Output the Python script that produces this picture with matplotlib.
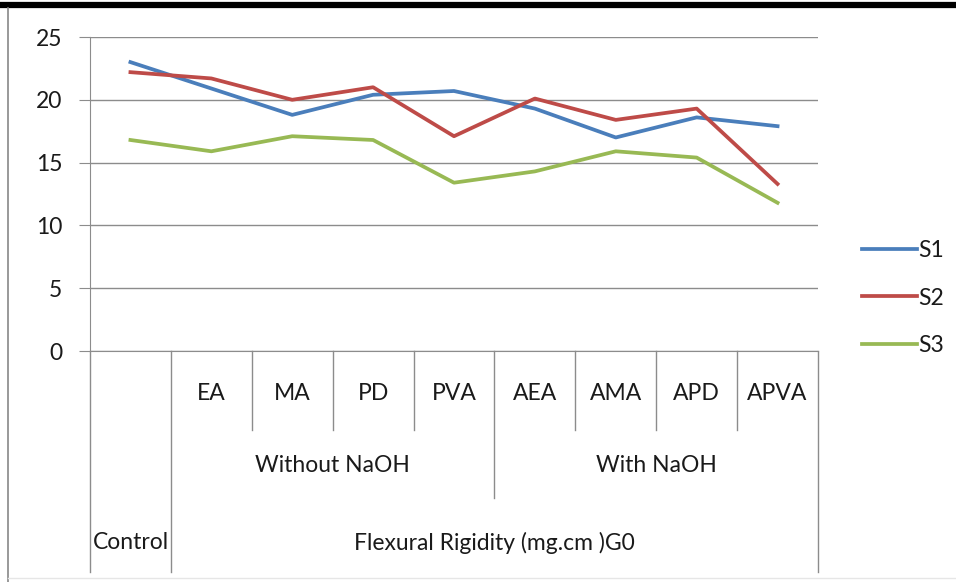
import matplotlib.pyplot as plt
from matplotlib.transforms import blended_transform_factory
from matplotlib.lines import Line2D

plt.rcParams['font.family'] = ['Lato', 'DejaVu Sans']

# data
samples = ["Control", "EA", "MA", "PD", "PVA", "AEA", "AMA", "APD", "APVA"]
s1 = [23.0, 20.9, 18.8, 20.4, 20.7, 19.3, 17.0, 18.6, 17.9]
s2 = [22.2, 21.7, 20.0, 21.0, 17.1, 20.1, 18.4, 19.3, 13.3]
s3 = [16.8, 15.9, 17.1, 16.8, 13.4, 14.3, 15.9, 15.4, 11.8]
groups = ["Without NaOH", "With NaOH"]
title_label = "Flexural Rigidity (mg.cm )G0"

colors = {"S1": "#4A7EBB", "S2": "#BE4B48", "S3": "#98B954"}
grid_c = "#8c8c8c"
txt_c = "#1a1a1a"
fs = 16.5

fig = plt.figure(figsize=(9.56, 5.82), dpi=100)
ax = fig.add_axes([90/956, 1-351/582, (818-90)/956, (351-37)/582])

x = list(range(len(samples)))
ax.plot(x, s1, color=colors["S1"], lw=2.7, label="S1")
ax.plot(x, s2, color=colors["S2"], lw=2.7, label="S2")
ax.plot(x, s3, color=colors["S3"], lw=2.7, label="S3")

ax.set_xlim(-0.5, len(samples) - 0.5)
ax.set_ylim(0, 25)
ax.set_yticks([0, 5, 10, 15, 20, 25])
ax.yaxis.grid(True, color=grid_c, lw=1)
ax.set_axisbelow(True)
ax.tick_params(axis='y', length=8, color=grid_c, labelsize=fs, pad=12, labelcolor=txt_c)
ax.set_xticks([])
for s in ["top", "right"]:
    ax.spines[s].set_visible(False)
ax.spines["left"].set_color(grid_c)
ax.spines["bottom"].set_color(grid_c)

# multi-level category axis
tr = blended_transform_factory(ax.transData, ax.transAxes)
lv1, lv2, lv3 = -0.252, -0.468, -0.704
bounds = [(-0.5, lv3), (0.5, lv3), (1.5, lv1), (2.5, lv1), (3.5, lv1),
          (4.5, lv2), (5.5, lv1), (6.5, lv1), (7.5, lv1), (8.5, lv3)]
for bx, by in bounds:
    ax.add_line(Line2D([bx, bx], [0, by], transform=tr, color=grid_c, lw=1, clip_on=False))

for i, name in enumerate(samples[1:], start=1):
    ax.text(i, -0.134, name, transform=tr, ha="center", va="center", fontsize=fs, color=txt_c)
ax.text(2.5, -0.366, groups[0], transform=tr, ha="center", va="center", fontsize=fs, color=txt_c)
ax.text(6.5, -0.366, groups[1], transform=tr, ha="center", va="center", fontsize=fs, color=txt_c)
ax.text(0, -0.611, samples[0], transform=tr, ha="center", va="center", fontsize=fs, color=txt_c)
ax.text(4.5, -0.611, title_label, transform=tr, ha="center", va="center", fontsize=fs, color=txt_c)

leg = fig.legend(loc="upper left", bbox_to_anchor=(853/956, 1-231/582), frameon=False,
                 handlelength=2.4, handletextpad=0.05, labelspacing=1.15, fontsize=fs,
                 borderaxespad=0, labelcolor=txt_c)

# page frame bits
fig.add_artist(Line2D([0, 1], [1-4.5/582, 1-4.5/582], color="black", lw=4.5))
fig.add_artist(Line2D([8/956, 8/956], [0, 1-8/582], color="#888888", lw=1.2))
fig.add_artist(Line2D([8/956, 1], [4/582, 4/582], color="#e6e6e6", lw=1))

fig.savefig("out.png", dpi=100)
